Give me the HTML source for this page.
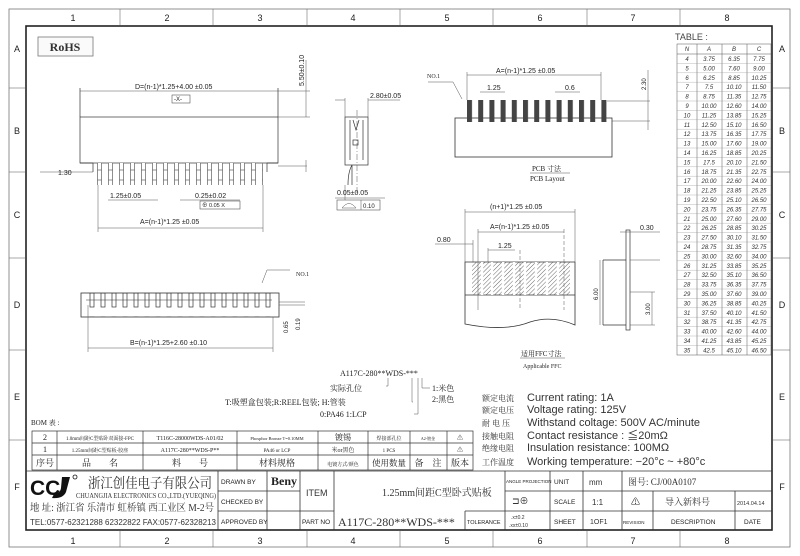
<!DOCTYPE html>
<html><head><meta charset="utf-8"><style>
html,body{margin:0;padding:0;background:#fff;}
svg{display:block;font-family:"Liberation Sans","Noto Sans CJK SC",sans-serif;}
.t{font-size:7px;fill:#222;}
.s{font-family:"Liberation Serif","Noto Serif CJK SC",serif;}
.ln{stroke:#333;stroke-width:0.7;fill:none;}
.tn{stroke:#555;stroke-width:0.5;fill:none;}
.tb text{font-size:6px;font-style:italic;fill:#333;text-anchor:middle;}
</style></head><body>
<svg width="800" height="556" viewBox="0 0 800 556" xmlns="http://www.w3.org/2000/svg">
<defs>
<pattern id="pins" x="97" y="0" width="11" height="10" patternUnits="userSpaceOnUse"><rect x="0.5" y="0" width="4" height="10" fill="#fff" stroke="#444" stroke-width="0.6"/></pattern>
<pattern id="pads" x="467" y="0" width="11.2" height="10" patternUnits="userSpaceOnUse"><rect x="0" y="0" width="5" height="10" fill="#444"/></pattern>
<pattern id="hatch" width="3" height="3" patternUnits="userSpaceOnUse" patternTransform="rotate(45)"><line x1="0" y1="0" x2="0" y2="3" stroke="#444" stroke-width="0.8"/></pattern>
<pattern id="bp" x="88" y="0" width="11" height="24" patternUnits="userSpaceOnUse"><rect x="2" y="5" width="4" height="14" fill="none" stroke="#333" stroke-width="0.7"/><line x1="0" y1="12" x2="11" y2="12" stroke="#333" stroke-width="0.5"/></pattern>
</defs>
<rect x="9" y="9" width="781" height="538" fill="none" stroke="#777" stroke-width="0.8"/>
<rect x="26" y="26" width="746" height="504" fill="none" stroke="#222" stroke-width="1.6"/>
<g class="tn">
<line x1="120" y1="9" x2="120" y2="26"/><line x1="213" y1="9" x2="213" y2="26"/><line x1="307" y1="9" x2="307" y2="26"/><line x1="400" y1="9" x2="400" y2="26"/><line x1="493" y1="9" x2="493" y2="26"/><line x1="587" y1="9" x2="587" y2="26"/><line x1="680" y1="9" x2="680" y2="26"/>
<line x1="120" y1="530" x2="120" y2="547"/><line x1="213" y1="530" x2="213" y2="547"/><line x1="307" y1="530" x2="307" y2="547"/><line x1="400" y1="530" x2="400" y2="547"/><line x1="493" y1="530" x2="493" y2="547"/><line x1="587" y1="530" x2="587" y2="547"/><line x1="680" y1="530" x2="680" y2="547"/>
<line x1="9" y1="88" x2="26" y2="88"/><line x1="9" y1="172" x2="26" y2="172"/><line x1="9" y1="258" x2="26" y2="258"/><line x1="9" y1="350" x2="26" y2="350"/><line x1="9" y1="440" x2="26" y2="440"/>
<line x1="772" y1="88" x2="790" y2="88"/><line x1="772" y1="172" x2="790" y2="172"/><line x1="772" y1="258" x2="790" y2="258"/><line x1="772" y1="350" x2="790" y2="350"/><line x1="772" y1="440" x2="790" y2="440"/>
</g>
<g class="t" style="font-size:9px" text-anchor="middle">
<text x="73" y="21">1</text><text x="167" y="21">2</text><text x="260" y="21">3</text><text x="353" y="21">4</text><text x="447" y="21">5</text><text x="540" y="21">6</text><text x="633" y="21">7</text><text x="727" y="21">8</text>
<text x="73" y="544">1</text><text x="167" y="544">2</text><text x="260" y="544">3</text><text x="353" y="544">4</text><text x="447" y="544">5</text><text x="540" y="544">6</text><text x="633" y="544">7</text><text x="727" y="544">8</text>
<text x="17" y="52">A</text><text x="17" y="134">B</text><text x="17" y="218">C</text><text x="17" y="308">D</text><text x="17" y="400">E</text><text x="17" y="490">F</text>
<text x="782" y="52">A</text><text x="782" y="134">B</text><text x="782" y="218">C</text><text x="782" y="308">D</text><text x="782" y="400">E</text><text x="782" y="490">F</text>
</g>
<rect x="38" y="37" width="55" height="19" fill="#fafafa" stroke="#777" stroke-width="0.8"/>
<text x="65" y="51" text-anchor="middle" class="s" style="font-size:12px;font-weight:bold;fill:#333">RoHS</text>

<g class="ln">
<rect x="80" y="117" width="198" height="46"/>
<path d="M93 163 V172 M267 163 V172 M80 163 H93 M267 163 H278"/>
<line x1="80" y1="117" x2="80" y2="88"/><line x1="278" y1="117" x2="278" y2="88"/>
<line x1="80" y1="91" x2="278" y2="91" class="tn"/>
<line x1="278" y1="117" x2="310" y2="117" class="tn"/><line x1="278" y1="91" x2="310" y2="91" class="tn"/><line x1="306" y1="60" x2="306" y2="117" class="tn"/>
<line x1="278" y1="166" x2="307" y2="166" class="tn"/><line x1="306" y1="160" x2="306" y2="172" class="tn"/>
<line x1="40" y1="172" x2="93" y2="172" class="tn"/>
<line x1="98" y1="185" x2="98" y2="232" class="tn"/><line x1="263" y1="185" x2="263" y2="232" class="tn"/>
<line x1="98" y1="228" x2="263" y2="228" class="tn"/>
<line x1="108" y1="200" x2="158" y2="200" class="tn"/>
<line x1="180" y1="200" x2="240" y2="200" class="tn"/>
</g>
<rect x="97" y="163" width="166" height="22" fill="url(#pins)"/>
<text class="t" x="135" y="89">D=(n-1)*1.25+4.00 ±0.05</text>
<rect x="172" y="95" width="18" height="8" fill="#fff" stroke="#555" stroke-width="0.6"/><text class="t" x="174" y="101" style="font-size:6px">-X-</text>
<text class="t" x="0" y="0" transform="translate(304,86) rotate(-90)">5.50±0.10</text>
<text class="t" x="58" y="175">1.30</text>
<text class="t" x="110" y="198">1.25±0.05</text>
<text class="t" x="195" y="198">0.25±0.02</text>
<rect x="200" y="201" width="40" height="8" fill="#fff" stroke="#555" stroke-width="0.6"/><text class="t" x="202" y="207" style="font-size:5.5px">⊕ 0.05  X</text>
<text class="t" x="140" y="224">A=(n-1)*1.25 ±0.05</text>

<g class="ln">
<rect x="345" y="117" width="23" height="48"/>
<path d="M350 120 V160 M363 120 V160 M353 120 L356 130 L359 120"/>
<rect x="353" y="140" width="5" height="5"/>
<path d="M352 165 Q348 172 348 185 M352 165 Q352 172 352 185"/>
<line x1="357" y1="110" x2="357" y2="195" stroke-dasharray="6,2,1,2" class="tn"/>
<line x1="345" y1="98" x2="345" y2="117" class="tn"/><line x1="368" y1="98" x2="368" y2="117" class="tn"/>
<line x1="335" y1="100" x2="345" y2="100" class="tn"/><line x1="368" y1="100" x2="400" y2="100" class="tn"/>
<line x1="345" y1="185" x2="345" y2="200" class="tn"/><line x1="335" y1="198" x2="385" y2="198" class="tn"/>
</g>
<text class="t" x="370" y="98">2.80±0.05</text>
<text class="t" x="337" y="195">0.05±0.05</text>
<rect x="337" y="200" width="43" height="10" fill="#fff" stroke="#555" stroke-width="0.6"/><line x1="361" y1="200" x2="361" y2="210" class="tn"/>
<path d="M342 208 Q349 199 356 208 Z" class="tn"/><text class="t" x="363" y="208" style="font-size:6px">0.10</text>

<rect x="81" y="293" width="198" height="24" fill="none" stroke="#333" stroke-width="0.8"/>
<rect x="86" y="293" width="186" height="24" fill="url(#bp)"/>
<g class="tn">
<path d="M262 283 L267 270 H290"/>
<line x1="279" y1="305" x2="305" y2="305"/><line x1="279" y1="302" x2="305" y2="302"/>
<line x1="88" y1="305" x2="88" y2="352"/><line x1="273" y1="317" x2="273" y2="352"/>
<line x1="88" y1="348" x2="273" y2="348"/>
</g>
<text class="t s" x="296" y="276" style="font-size:6px">NO.1</text>
<text class="t" x="130" y="345">B=(n-1)*1.25+2.60 ±0.10</text>
<text class="t" transform="translate(288,333) rotate(-90)" style="font-size:6px">0.65</text>
<text class="t" transform="translate(300,330) rotate(-90)" style="font-size:6px">0.19</text>

<g class="t s" style="font-size:8px">
<text x="340" y="376">A117C-280**WDS-***</text>
<text x="330" y="391">实际孔位</text>
<text x="225" y="405">T:吸塑盒包装;R:REEL包装; H:管装</text>
<text x="320" y="417">0:PA46 1:LCP</text>
<text x="432" y="391">1:米色</text>
<text x="432" y="402">2:黑色</text>
</g>
<g class="tn">
<path d="M386 386 H388 V378"/><path d="M413 402 H412 V378"/><path d="M414 414 H418 V378"/><path d="M422 378 V388 H430"/>
</g>

<rect x="455" y="118" width="157" height="39" fill="none" stroke="#333" stroke-width="0.8"/>
<rect x="467" y="100" width="140" height="22" fill="url(#pads)"/>
<g class="tn">
<line x1="467" y1="75" x2="601" y2="75"/><line x1="467" y1="72" x2="467" y2="100"/><line x1="601" y1="72" x2="601" y2="100"/>
<path d="M428 82 H453 L462 99"/>
<line x1="480" y1="92" x2="505" y2="92"/><line x1="555" y1="92" x2="580" y2="92"/>
<line x1="607" y1="101" x2="650" y2="101"/><line x1="612" y1="121" x2="650" y2="121"/><line x1="648" y1="70" x2="648" y2="130"/>
<line x1="530" y1="173" x2="570" y2="173"/>
</g>
<text class="t" x="496" y="73">A=(n-1)*1.25 ±0.05</text>
<text class="t s" x="427" y="78" style="font-size:6px">NO.1</text>
<text class="t" x="487" y="90">1.25</text><text class="t" x="565" y="90">0.6</text>
<text class="t" transform="translate(646,90) rotate(-90)" style="font-size:6px">2.30</text>
<text class="t s" x="532" y="171">PCB 寸法</text><text class="t s" x="530" y="181">PCB Layout</text>

<path d="M465 262 H575 V325 Q552 315 530 322 Q505 332 465 324 Z" fill="none" stroke="#333" stroke-width="0.8"/>
<line x1="465" y1="295" x2="575" y2="295" stroke="#333" stroke-width="0.7"/>
<rect x="472" y="262" width="98" height="33" fill="url(#hatch)"/>
<g stroke="#fff" stroke-width="2.4"><line x1="482" y1="262" x2="482" y2="295"/><line x1="492" y1="262" x2="492" y2="295"/><line x1="503" y1="262" x2="503" y2="295"/><line x1="514" y1="262" x2="514" y2="295"/><line x1="525" y1="262" x2="525" y2="295"/><line x1="536" y1="262" x2="536" y2="295"/><line x1="547" y1="262" x2="547" y2="295"/><line x1="558" y1="262" x2="558" y2="295"/></g>
<g class="tn">
<line x1="465" y1="209" x2="465" y2="262"/><line x1="575" y1="209" x2="575" y2="262"/><line x1="465" y1="212" x2="575" y2="212"/>
<line x1="478" y1="229" x2="478" y2="310"/><line x1="564" y1="229" x2="564" y2="310" stroke-dasharray="4,2"/><line x1="478" y1="232" x2="564" y2="232"/>
<line x1="520" y1="250" x2="520" y2="310" stroke-dasharray="4,2"/>
<line x1="435" y1="244" x2="473" y2="244"/><line x1="473" y1="240" x2="473" y2="262"/>
<line x1="488" y1="250" x2="515" y2="250"/><line x1="488" y1="248" x2="488" y2="262"/>
<line x1="520" y1="358" x2="565" y2="358"/>
</g>
<text class="t" x="490" y="209">(n+1)*1.25 ±0.05</text>
<text class="t" x="490" y="229">A=(n-1)*1.25 ±0.05</text>
<text class="t" x="437" y="242">0.80</text><text class="t" x="498" y="248">1.25</text>
<text class="t s" x="521" y="356">适用FFC寸法</text><text class="t s" x="523" y="368" style="font-size:6px">Applicable FFC</text>
<g class="ln">
<rect x="626" y="230" width="4" height="100"/>
<path d="M603 260 H626 M603 325 H626 M603 260 V325"/>
<line x1="620" y1="232" x2="660" y2="232" class="tn"/><line x1="630" y1="260" x2="660" y2="260" class="tn"/>
<line x1="600" y1="260" x2="600" y2="325" class="tn"/><line x1="630" y1="292" x2="655" y2="292" class="tn"/><line x1="652" y1="292" x2="652" y2="325" class="tn"/><line x1="630" y1="325" x2="655" y2="325" class="tn"/>
</g>
<text class="t" x="640" y="230">0.30</text>
<text class="t" transform="translate(598,300) rotate(-90)" style="font-size:6px">6.00</text>
<text class="t" transform="translate(650,315) rotate(-90)" style="font-size:6px">3.00</text>

<text x="675" y="40" style="font-size:9px;fill:#444">TABLE :</text>
<g class="tn">
<rect x="677" y="44" width="94" height="311"/>
<line x1="697" y1="44" x2="697" y2="355"/><line x1="722" y1="44" x2="722" y2="355"/><line x1="747" y1="44" x2="747" y2="355"/>
<line x1="677" y1="54" x2="771" y2="54"/>
</g>
<g class="tb">
<text x="687" y="51">N</text><text x="709" y="51">A</text><text x="734" y="51">B</text><text x="759" y="51">C</text>
<text x="687" y="61">4</text><text x="709" y="61">3.75</text><text x="734" y="61">6.35</text><text x="759" y="61">7.75</text>
<text x="687" y="70.4">5</text><text x="709" y="70.4">5.00</text><text x="734" y="70.4">7.60</text><text x="759" y="70.4">9.00</text>
<text x="687" y="79.8">6</text><text x="709" y="79.8">6.25</text><text x="734" y="79.8">8.85</text><text x="759" y="79.8">10.25</text>
<text x="687" y="89.2">7</text><text x="709" y="89.2">7.5</text><text x="734" y="89.2">10.10</text><text x="759" y="89.2">11.50</text>
<text x="687" y="98.6">8</text><text x="709" y="98.6">8.75</text><text x="734" y="98.6">11.35</text><text x="759" y="98.6">12.75</text>
<text x="687" y="108">9</text><text x="709" y="108">10.00</text><text x="734" y="108">12.60</text><text x="759" y="108">14.00</text>
<text x="687" y="117.4">10</text><text x="709" y="117.4">11.25</text><text x="734" y="117.4">13.85</text><text x="759" y="117.4">15.25</text>
<text x="687" y="126.8">11</text><text x="709" y="126.8">12.50</text><text x="734" y="126.8">15.10</text><text x="759" y="126.8">16.50</text>
<text x="687" y="136.2">12</text><text x="709" y="136.2">13.75</text><text x="734" y="136.2">16.35</text><text x="759" y="136.2">17.75</text>
<text x="687" y="145.6">13</text><text x="709" y="145.6">15.00</text><text x="734" y="145.6">17.60</text><text x="759" y="145.6">19.00</text>
<text x="687" y="155">14</text><text x="709" y="155">16.25</text><text x="734" y="155">18.85</text><text x="759" y="155">20.25</text>
<text x="687" y="164.4">15</text><text x="709" y="164.4">17.5</text><text x="734" y="164.4">20.10</text><text x="759" y="164.4">21.50</text>
<text x="687" y="173.8">16</text><text x="709" y="173.8">18.75</text><text x="734" y="173.8">21.35</text><text x="759" y="173.8">22.75</text>
<text x="687" y="183.2">17</text><text x="709" y="183.2">20.00</text><text x="734" y="183.2">22.60</text><text x="759" y="183.2">24.00</text>
<text x="687" y="192.6">18</text><text x="709" y="192.6">21.25</text><text x="734" y="192.6">23.85</text><text x="759" y="192.6">25.25</text>
<text x="687" y="202">19</text><text x="709" y="202">22.50</text><text x="734" y="202">25.10</text><text x="759" y="202">26.50</text>
<text x="687" y="211.4">20</text><text x="709" y="211.4">23.75</text><text x="734" y="211.4">26.35</text><text x="759" y="211.4">27.75</text>
<text x="687" y="220.8">21</text><text x="709" y="220.8">25.00</text><text x="734" y="220.8">27.60</text><text x="759" y="220.8">29.00</text>
<text x="687" y="230.2">22</text><text x="709" y="230.2">26.25</text><text x="734" y="230.2">28.85</text><text x="759" y="230.2">30.25</text>
<text x="687" y="239.6">23</text><text x="709" y="239.6">27.50</text><text x="734" y="239.6">30.10</text><text x="759" y="239.6">31.50</text>
<text x="687" y="249">24</text><text x="709" y="249">28.75</text><text x="734" y="249">31.35</text><text x="759" y="249">32.75</text>
<text x="687" y="258.4">25</text><text x="709" y="258.4">30.00</text><text x="734" y="258.4">32.60</text><text x="759" y="258.4">34.00</text>
<text x="687" y="267.8">26</text><text x="709" y="267.8">31.25</text><text x="734" y="267.8">33.85</text><text x="759" y="267.8">35.25</text>
<text x="687" y="277.2">27</text><text x="709" y="277.2">32.50</text><text x="734" y="277.2">35.10</text><text x="759" y="277.2">36.50</text>
<text x="687" y="286.6">28</text><text x="709" y="286.6">33.75</text><text x="734" y="286.6">36.35</text><text x="759" y="286.6">37.75</text>
<text x="687" y="296">29</text><text x="709" y="296">35.00</text><text x="734" y="296">37.60</text><text x="759" y="296">39.00</text>
<text x="687" y="305.4">30</text><text x="709" y="305.4">36.25</text><text x="734" y="305.4">38.85</text><text x="759" y="305.4">40.25</text>
<text x="687" y="314.8">31</text><text x="709" y="314.8">37.50</text><text x="734" y="314.8">40.10</text><text x="759" y="314.8">41.50</text>
<text x="687" y="324.2">32</text><text x="709" y="324.2">38.75</text><text x="734" y="324.2">41.35</text><text x="759" y="324.2">42.75</text>
<text x="687" y="333.6">33</text><text x="709" y="333.6">40.00</text><text x="734" y="333.6">42.60</text><text x="759" y="333.6">44.00</text>
<text x="687" y="343">34</text><text x="709" y="343">41.25</text><text x="734" y="343">43.85</text><text x="759" y="343">45.25</text>
<text x="687" y="352.4">35</text><text x="709" y="352.4">42.5</text><text x="734" y="352.4">45.10</text><text x="759" y="352.4">46.50</text>
</g>
<g stroke="#888" stroke-width="0.3">
<line x1="677" y1="63.4" x2="771" y2="63.4"/><line x1="677" y1="72.8" x2="771" y2="72.8"/><line x1="677" y1="82.2" x2="771" y2="82.2"/><line x1="677" y1="91.6" x2="771" y2="91.6"/><line x1="677" y1="101" x2="771" y2="101"/><line x1="677" y1="110.4" x2="771" y2="110.4"/><line x1="677" y1="119.8" x2="771" y2="119.8"/><line x1="677" y1="129.2" x2="771" y2="129.2"/><line x1="677" y1="138.6" x2="771" y2="138.6"/><line x1="677" y1="148" x2="771" y2="148"/><line x1="677" y1="157.4" x2="771" y2="157.4"/><line x1="677" y1="166.8" x2="771" y2="166.8"/><line x1="677" y1="176.2" x2="771" y2="176.2"/><line x1="677" y1="185.6" x2="771" y2="185.6"/><line x1="677" y1="195" x2="771" y2="195"/><line x1="677" y1="204.4" x2="771" y2="204.4"/><line x1="677" y1="213.8" x2="771" y2="213.8"/><line x1="677" y1="223.2" x2="771" y2="223.2"/><line x1="677" y1="232.6" x2="771" y2="232.6"/><line x1="677" y1="242" x2="771" y2="242"/><line x1="677" y1="251.4" x2="771" y2="251.4"/><line x1="677" y1="260.8" x2="771" y2="260.8"/><line x1="677" y1="270.2" x2="771" y2="270.2"/><line x1="677" y1="279.6" x2="771" y2="279.6"/><line x1="677" y1="289" x2="771" y2="289"/><line x1="677" y1="298.4" x2="771" y2="298.4"/><line x1="677" y1="307.8" x2="771" y2="307.8"/><line x1="677" y1="317.2" x2="771" y2="317.2"/><line x1="677" y1="326.6" x2="771" y2="326.6"/><line x1="677" y1="336" x2="771" y2="336"/><line x1="677" y1="345.4" x2="771" y2="345.4"/>
</g>

<g class="t" style="font-size:11px;fill:#333">
<text x="482" y="401" style="font-size:8px" class="s">额定电流</text><text x="527" y="401">Current rating: 1A</text>
<text x="482" y="413" style="font-size:8px" class="s">额定电压</text><text x="527" y="413">Voltage rating: 125V</text>
<text x="482" y="426" style="font-size:8px" class="s">耐 电 压</text><text x="527" y="426">Withstand coltage: 500V AC/minute</text>
<text x="482" y="439" style="font-size:8px" class="s">接触电阻</text><text x="527" y="439">Contact resistance : ≦20mΩ</text>
<text x="482" y="451" style="font-size:8px" class="s">绝缘电阻</text><text x="527" y="451">Insulation resistance: 100MΩ</text>
<text x="482" y="465" style="font-size:8px" class="s">工作温度</text><text x="527" y="465">Working temperature: −20°c ~ +80°c</text>
</g>

<text class="t s" x="31" y="425" style="font-size:7px">BOM 表 :</text>
<g stroke="#333" stroke-width="0.7" fill="none">
<rect x="32" y="431" width="441" height="39"/>
<line x1="32" y1="443" x2="473" y2="443"/><line x1="32" y1="455" x2="473" y2="455"/>
<line x1="57" y1="431" x2="57" y2="470"/><line x1="143" y1="431" x2="143" y2="470"/><line x1="237" y1="431" x2="237" y2="470"/><line x1="318" y1="431" x2="318" y2="470"/><line x1="368" y1="431" x2="368" y2="470"/><line x1="410" y1="431" x2="410" y2="470"/><line x1="447" y1="431" x2="447" y2="470"/>
</g>
<g class="t s" text-anchor="middle">
<text x="45" y="440" style="font-size:8px">2</text><text x="100" y="440" style="font-size:5px">1.0mm间距C型贴卧双面接-FPC</text><text x="190" y="440" style="font-size:6px">T116C-28000WDS-A01/02</text><text x="277" y="440" style="font-size:4.5px">Phosphor Bronze T=0.10MM</text><text x="343" y="440" style="font-size:8px">镀锡</text><text x="389" y="440" style="font-size:5px">焊接部孔位</text><text x="428" y="440" style="font-size:4px">A2-镀金</text><text x="460" y="440" style="font-size:6px">⚠</text>
<text x="45" y="452" style="font-size:8px">1</text><text x="100" y="452" style="font-size:5px">1.25mm间距C型贴板-胶座</text><text x="190" y="452" style="font-size:6px">A117C-280**WDS-P**</text><text x="277" y="452" style="font-size:5px">PA46 or LCP</text><text x="343" y="452" style="font-size:6px">米or黑色</text><text x="389" y="452" style="font-size:5px">1 PCS</text><text x="460" y="452" style="font-size:6px">⚠</text>
<text x="45" y="466" style="font-size:9px">序号</text><text x="100" y="466" style="font-size:9px">品　　名</text><text x="190" y="466" style="font-size:9px">料　　号</text><text x="277" y="466" style="font-size:9px">材料规格</text><text x="343" y="466" style="font-size:5px">电镀方式/颜色</text><text x="389" y="466" style="font-size:8.5px">使用数量</text><text x="428" y="466" style="font-size:9px">备　注</text><text x="460" y="466" style="font-size:9px">版本</text>
</g>

<g stroke="#333" stroke-width="0.8" fill="none">
<line x1="26" y1="471" x2="772" y2="471"/>
<line x1="218" y1="491" x2="300" y2="491"/><line x1="218" y1="511" x2="334" y2="511"/>
<line x1="505" y1="491" x2="772" y2="491"/><line x1="465" y1="511" x2="772" y2="511"/>
<line x1="218" y1="471" x2="218" y2="530"/><line x1="267" y1="471" x2="267" y2="530"/><line x1="300" y1="471" x2="300" y2="530"/><line x1="334" y1="471" x2="334" y2="530"/>
<line x1="465" y1="511" x2="465" y2="530"/><line x1="505" y1="471" x2="505" y2="530"/><line x1="550" y1="471" x2="550" y2="530"/><line x1="583" y1="471" x2="583" y2="530"/><line x1="622" y1="471" x2="622" y2="530"/>
<line x1="653" y1="491" x2="653" y2="530"/><line x1="735" y1="491" x2="735" y2="530"/>
</g>
<text x="30" y="495" style="font-size:21px;font-weight:bold;fill:#111;font-family:'Liberation Sans',sans-serif">CC</text>
<path d="M62 477 L70 477 L66 492 Q63 499 52 498 L54 494 Q60 494 61 488 Z" fill="#111"/>
<circle cx="75" cy="477" r="2" fill="none" stroke="#111" stroke-width="0.8"/>
<text x="88" y="488" class="s" style="font-size:14px;fill:#333" textLength="124" lengthAdjust="spacingAndGlyphs">浙江创佳电子有限公司</text>
<text x="76" y="498" class="s" style="font-size:7.5px;fill:#333" textLength="140" lengthAdjust="spacingAndGlyphs">CHUANGJIA ELECTRONICS CO.,LTD.(YUEQING)</text>
<text x="30" y="511" class="s" style="font-size:10px;fill:#333" textLength="184" lengthAdjust="spacingAndGlyphs">地 址: 浙江省 乐清市 虹桥镇 西工业区 M-2号</text>
<text x="30" y="525" style="font-size:8px;fill:#333" textLength="186" lengthAdjust="spacingAndGlyphs">TEL:0577-62321288 62322822 FAX:0577-62328213</text>
<g class="t" style="font-size:6.5px">
<text x="221" y="484">DRAWN BY</text><text x="221" y="504">CHECKED BY</text><text x="221" y="524">APPROVED BY</text>
<text x="302" y="524">PART NO</text>
<text x="506" y="483" style="font-size:4.5px">ANGLE PROJECTION</text><text x="554" y="484">UNIT</text><text x="554" y="504">SCALE</text><text x="554" y="524">SHEET</text>
<text x="467" y="524" style="font-size:5.5px">TOLERANCE</text>
<text x="623" y="524" style="font-size:4.5px">REVISION</text>
<text x="671" y="524">DESCRIPTION</text><text x="744" y="524">DATE</text>
</g>
<text x="271" y="485" class="s" style="font-size:12px;font-weight:bold;fill:#222">Beny</text>
<text x="306" y="496" style="font-size:9px;fill:#333">ITEM</text>
<text x="382" y="496" class="s" style="font-size:10px;fill:#333">1.25mm间距C型卧式贴板</text>
<text x="338" y="526" class="s" style="font-size:12px;fill:#333">A117C-280**WDS-***</text>
<text x="589" y="485" style="font-size:8px;fill:#333">mm</text><text x="592" y="505" style="font-size:8px;fill:#333">1:1</text><text x="590" y="524" style="font-size:7px;fill:#333">1OF1</text>
<text x="628" y="485" class="s" style="font-size:9px;fill:#333">图号:  CJ/00A0107</text>
<text x="631" y="505" style="font-size:9px;fill:#333">⚠</text>
<text x="665" y="505" class="s" style="font-size:9px;fill:#333">导入新料号</text>
<text x="737" y="505" style="font-size:5.5px;fill:#333">2014.04.14</text>
<text x="512" y="504" style="font-size:9px;fill:#333">⊐⊕</text>
<text x="511" y="519" style="font-size:5px;fill:#333">.x±0.2</text><text x="509" y="527" style="font-size:5px;fill:#333">.xx±0.10</text>
</svg>
</body></html>
